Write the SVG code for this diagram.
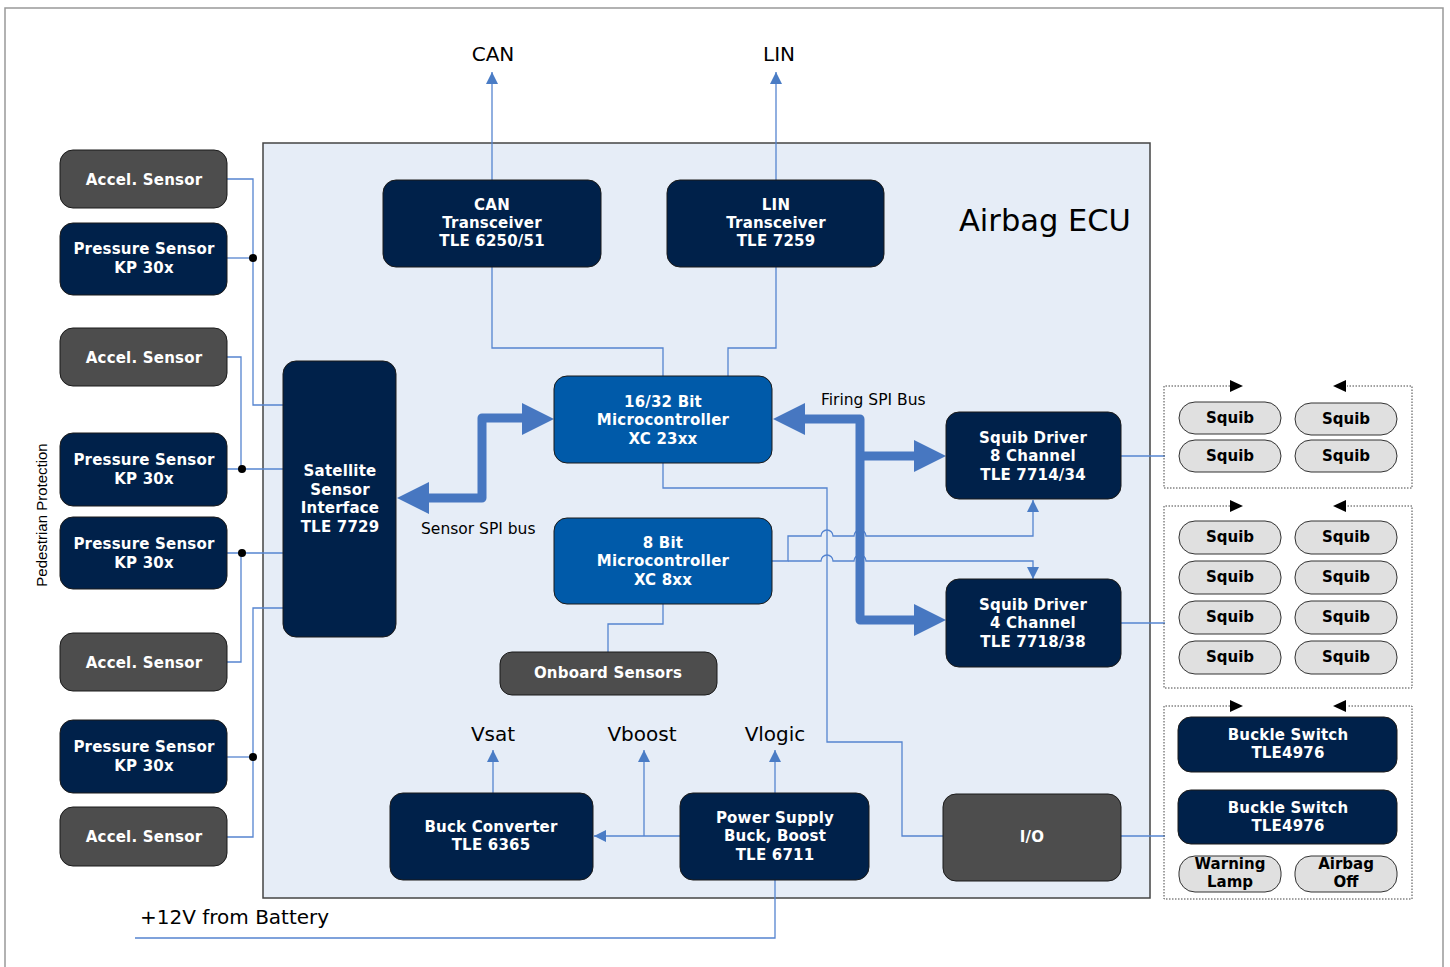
<svg xmlns="http://www.w3.org/2000/svg" width="1450" height="967" viewBox="0 0 1450 967">
<style>
.n{fill:#00214a;stroke:#1a1a1a;stroke-width:1}
.b{fill:#005aa9;stroke:#1a1a1a;stroke-width:1}
.g{fill:#4d4d4d;stroke:#1a1a1a;stroke-width:1}
.p{fill:#e0e0e0;stroke:#333;stroke-width:1}
.t{font-family:"DejaVu Sans",Verdana,sans-serif;font-weight:bold;font-size:15px;fill:#fff;text-anchor:middle;letter-spacing:0.2px}
.tk{font-family:"DejaVu Sans",Verdana,sans-serif;font-weight:bold;font-size:15px;fill:#000;text-anchor:middle}
.l{font-family:"DejaVu Sans",Verdana,sans-serif;font-size:20px;fill:#000;text-anchor:middle}
.s{font-family:"DejaVu Sans",Verdana,sans-serif;font-size:15.5px;fill:#000}
.c{fill:none;stroke:#5584d0;stroke-width:1.3}
.bus{fill:none;stroke:#4777c1;stroke-width:9;stroke-linejoin:round}
.bh{fill:#4777c1}
.d{fill:none;stroke:#444;stroke-width:1;stroke-dasharray:1.5 1.5}
</style>
<defs>
<marker id="a" viewBox="0 0 12 12" refX="12" refY="6" markerWidth="12" markerHeight="12" orient="auto" markerUnits="userSpaceOnUse"><path d="M0,0 L12,6 L0,12 z" fill="#4a7cc5"/></marker>
</defs>
<rect x="5" y="8" width="1438" height="965" fill="#fff" stroke="#999" stroke-width="1.5"/>
<rect id="ecu" x="263" y="143" width="887" height="755" fill="#e6edf7" stroke="#444" stroke-width="1.5"/>
<text x="959" y="231" font-family="DejaVu Sans,Verdana,sans-serif" font-size="30.5" fill="#000">Airbag ECU</text>
<text transform="translate(47,515) rotate(-90)" font-family="Liberation Sans,Arial,sans-serif" font-size="15" fill="#000" text-anchor="middle">Pedestrian Protection</text>

<g id="connectors">
<path class="c" d="M227,179 H253 V405 H283"/>
<path class="c" d="M227,258 H253"/>
<path class="c" d="M227,357 H241 V469"/>
<path class="c" d="M227,469 H283"/>
<path class="c" d="M227,553 H283"/>
<path class="c" d="M241,553 V662 H227"/>
<path class="c" d="M227,837 H253 V608 H283"/>
<path class="c" d="M227,757 H253"/>
<circle cx="253" cy="258" r="4" fill="#000"/>
<circle cx="242" cy="469" r="4" fill="#000"/>
<circle cx="242" cy="553" r="4" fill="#000"/>
<circle cx="253" cy="757" r="4" fill="#000"/>
<path class="c" d="M492,180 V72" marker-end="url(#a)"/>
<path class="c" d="M776,180 V72" marker-end="url(#a)"/>
<path class="c" d="M492,267 V348 H663 V376"/>
<path class="c" d="M776,267 V348 H728 V376"/>
<path class="c" d="M663,463 V488 H827 V742 H902 V836 H943"/>
<path class="c" d="M772,561 H788 V536 H821 a6,6 0 0 1 12,0 H854 a6,6 0 0 1 12,0 H1033 V500" marker-end="url(#a)"/>
<path class="c" d="M788,561 H821 a6,6 0 0 1 12,0 H854 a6,6 0 0 1 12,0 H1033 V579" marker-end="url(#a)"/>
<path class="c" d="M663,604 V624 H608 V652"/>
<path class="c" d="M1121,456 H1165"/>
<path class="c" d="M1121,623 H1165"/>
<path class="c" d="M1121,836 H1165"/>
<path class="c" d="M493,793 V750" marker-end="url(#a)"/>
<path class="c" d="M644,836 V750" marker-end="url(#a)"/>
<path class="c" d="M775,793 V750" marker-end="url(#a)"/>
<path class="c" d="M680,836 H594" marker-end="url(#a)"/>
<path class="c" d="M135,938 H775 V880"/>
<path class="bus" d="M429,498 H482 V418 H522"/>
<polygon class="bh" points="397,498 429,482 429,514"/>
<polygon class="bh" points="554,419 522,403 522,435"/>
<path class="bus" d="M805,419 H860 V620 H915"/>
<path class="bus" d="M860,456 H915"/>
<polygon class="bh" points="773,419 805,403 805,435"/>
<polygon class="bh" points="946,456 914,440 914,472"/>
<polygon class="bh" points="946,620 914,604 914,636"/>
</g>

<text class="s" x="821" y="405">Firing SPI Bus</text>
<text class="s" x="421" y="534">Sensor SPI bus</text>
<text class="l" x="493" y="61">CAN</text>
<text class="l" x="779" y="61">LIN</text>
<text class="l" x="493" y="741">Vsat</text>
<text class="l" x="642" y="741">Vboost</text>
<text class="l" x="775" y="741">Vlogic</text>
<text x="140" y="924" font-family="DejaVu Sans,Verdana,sans-serif" font-size="20" fill="#000">+12V from Battery</text>

<g id="accel1"><rect class="g" x="60" y="150" width="167" height="58" rx="13"/><text class="t" x="144" y="184.5">Accel. Sensor</text></g>
<g id="press1"><rect class="n" x="60" y="223" width="167" height="72" rx="13"/><text class="t" x="144" y="254">Pressure Sensor<tspan x="144" dy="19">KP 30x</tspan></text></g>
<g id="accel2"><rect class="g" x="60" y="328" width="167" height="58" rx="13"/><text class="t" x="144" y="362.5">Accel. Sensor</text></g>
<g id="press2"><rect class="n" x="60" y="433" width="167" height="73" rx="13"/><text class="t" x="144" y="465">Pressure Sensor<tspan x="144" dy="19">KP 30x</tspan></text></g>
<g id="press3"><rect class="n" x="60" y="517" width="167" height="72" rx="13"/><text class="t" x="144" y="549">Pressure Sensor<tspan x="144" dy="19">KP 30x</tspan></text></g>
<g id="accel3"><rect class="g" x="60" y="633" width="167" height="58" rx="13"/><text class="t" x="144" y="667.5">Accel. Sensor</text></g>
<g id="press4"><rect class="n" x="60" y="720" width="167" height="73" rx="13"/><text class="t" x="144" y="752">Pressure Sensor<tspan x="144" dy="19">KP 30x</tspan></text></g>
<g id="accel4"><rect class="g" x="60" y="807" width="167" height="59" rx="13"/><text class="t" x="144" y="841.5">Accel. Sensor</text></g>

<g id="satellite"><rect class="n" x="283" y="361" width="113" height="276" rx="13"/><text class="t" x="340" y="476">Satellite<tspan x="340" dy="18.5">Sensor</tspan><tspan x="340" dy="18.5">Interface</tspan><tspan x="340" dy="18.5">TLE 7729</tspan></text></g>
<g id="can"><rect class="n" x="383" y="180" width="218" height="87" rx="13"/><text class="t" x="492" y="209.5">CAN<tspan x="492" dy="18">Transceiver</tspan><tspan x="492" dy="18">TLE 6250/51</tspan></text></g>
<g id="lin"><rect class="n" x="667" y="180" width="217" height="87" rx="13"/><text class="t" x="776" y="209.5">LIN<tspan x="776" dy="18">Transceiver</tspan><tspan x="776" dy="18">TLE 7259</tspan></text></g>
<g id="mc16"><rect class="b" x="554" y="376" width="218" height="87" rx="13"/><text class="t" x="663" y="406.5">16/32 Bit<tspan x="663" dy="18.5">Microcontroller</tspan><tspan x="663" dy="18.5">XC 23xx</tspan></text></g>
<g id="mc8"><rect class="b" x="554" y="518" width="218" height="86" rx="13"/><text class="t" x="663" y="547.5">8 Bit<tspan x="663" dy="18.5">Microcontroller</tspan><tspan x="663" dy="18.5">XC 8xx</tspan></text></g>
<g id="onboard"><rect class="g" x="500" y="652" width="217" height="43" rx="12"/><text class="t" x="608" y="678">Onboard Sensors</text></g>
<g id="sd8"><rect class="n" x="946" y="412" width="175" height="87" rx="13"/><text class="t" x="1033" y="442.5">Squib Driver<tspan x="1033" dy="18.5">8 Channel</tspan><tspan x="1033" dy="18.5">TLE 7714/34</tspan></text></g>
<g id="sd4"><rect class="n" x="946" y="579" width="175" height="88" rx="13"/><text class="t" x="1033" y="609.5">Squib Driver<tspan x="1033" dy="18.5">4 Channel</tspan><tspan x="1033" dy="18.5">TLE 7718/38</tspan></text></g>
<g id="buck"><rect class="n" x="390" y="793" width="203" height="87" rx="13"/><text class="t" x="491" y="831.5">Buck Converter<tspan x="491" dy="18.5">TLE 6365</tspan></text></g>
<g id="psu"><rect class="n" x="680" y="793" width="189" height="87" rx="13"/><text class="t" x="775" y="822.5">Power Supply<tspan x="775" dy="18.5">Buck, Boost</tspan><tspan x="775" dy="18.5">TLE 6711</tspan></text></g>
<g id="io"><rect class="g" x="943" y="794" width="178" height="87" rx="13"/><text class="t" x="1032" y="842">I/O</text></g>

<g id="group1">
<path class="d" d="M1230,386 H1164 V488 H1412 V386 H1347"/>
<polygon points="1243,386 1230,380 1230,392" fill="#000"/>
<polygon points="1333,386 1346,380 1346,392" fill="#000"/>
</g>
<g id="group2">
<path class="d" d="M1230,506 H1164 V688 H1412 V506 H1347"/>
<polygon points="1243,506 1230,500 1230,512" fill="#000"/>
<polygon points="1333,506 1346,500 1346,512" fill="#000"/>
</g>
<g id="group3">
<path class="d" d="M1230,706 H1164 V899 H1412 V706 H1347"/>
<polygon points="1243,706 1230,700 1230,712" fill="#000"/>
<polygon points="1333,706 1346,700 1346,712" fill="#000"/>
</g>
<g id="squib1"><rect class="p" x="1179" y="402" width="102" height="32" rx="16"/><text class="tk" x="1230" y="423">Squib</text></g>
<g id="squib2"><rect class="p" x="1295" y="403" width="102" height="32" rx="16"/><text class="tk" x="1346" y="424">Squib</text></g>
<g id="squib3"><rect class="p" x="1179" y="440" width="102" height="32" rx="16"/><text class="tk" x="1230" y="461">Squib</text></g>
<g id="squib4"><rect class="p" x="1295" y="440" width="102" height="32" rx="16"/><text class="tk" x="1346" y="461">Squib</text></g>
<g id="squib5"><rect class="p" x="1179" y="521" width="102" height="33" rx="16"/><text class="tk" x="1230" y="542">Squib</text></g>
<g id="squib6"><rect class="p" x="1295" y="521" width="102" height="33" rx="16"/><text class="tk" x="1346" y="542">Squib</text></g>
<g id="squib7"><rect class="p" x="1179" y="561" width="102" height="33" rx="16"/><text class="tk" x="1230" y="582">Squib</text></g>
<g id="squib8"><rect class="p" x="1295" y="561" width="102" height="33" rx="16"/><text class="tk" x="1346" y="582">Squib</text></g>
<g id="squib9"><rect class="p" x="1179" y="601" width="102" height="33" rx="16"/><text class="tk" x="1230" y="622">Squib</text></g>
<g id="squib10"><rect class="p" x="1295" y="601" width="102" height="33" rx="16"/><text class="tk" x="1346" y="622">Squib</text></g>
<g id="squib11"><rect class="p" x="1179" y="641" width="102" height="33" rx="16"/><text class="tk" x="1230" y="662">Squib</text></g>
<g id="squib12"><rect class="p" x="1295" y="641" width="102" height="33" rx="16"/><text class="tk" x="1346" y="662">Squib</text></g>
<g id="buckle1"><rect class="n" x="1178" y="717" width="219" height="55" rx="13"/><text class="t" x="1288" y="739.5">Buckle Switch<tspan x="1288" dy="18.5">TLE4976</tspan></text></g>
<g id="buckle2"><rect class="n" x="1178" y="790" width="219" height="54" rx="13"/><text class="t" x="1288" y="812.5">Buckle Switch<tspan x="1288" dy="18.5">TLE4976</tspan></text></g>
<g id="warn"><rect class="p" x="1179" y="856" width="102" height="36" rx="16"/><text class="tk" x="1230" y="869">Warning<tspan x="1230" dy="18">Lamp</tspan></text></g>
<g id="airbagoff"><rect class="p" x="1295" y="856" width="102" height="36" rx="16"/><text class="tk" x="1346" y="869">Airbag<tspan x="1346" dy="18">Off</tspan></text></g>
</svg>
